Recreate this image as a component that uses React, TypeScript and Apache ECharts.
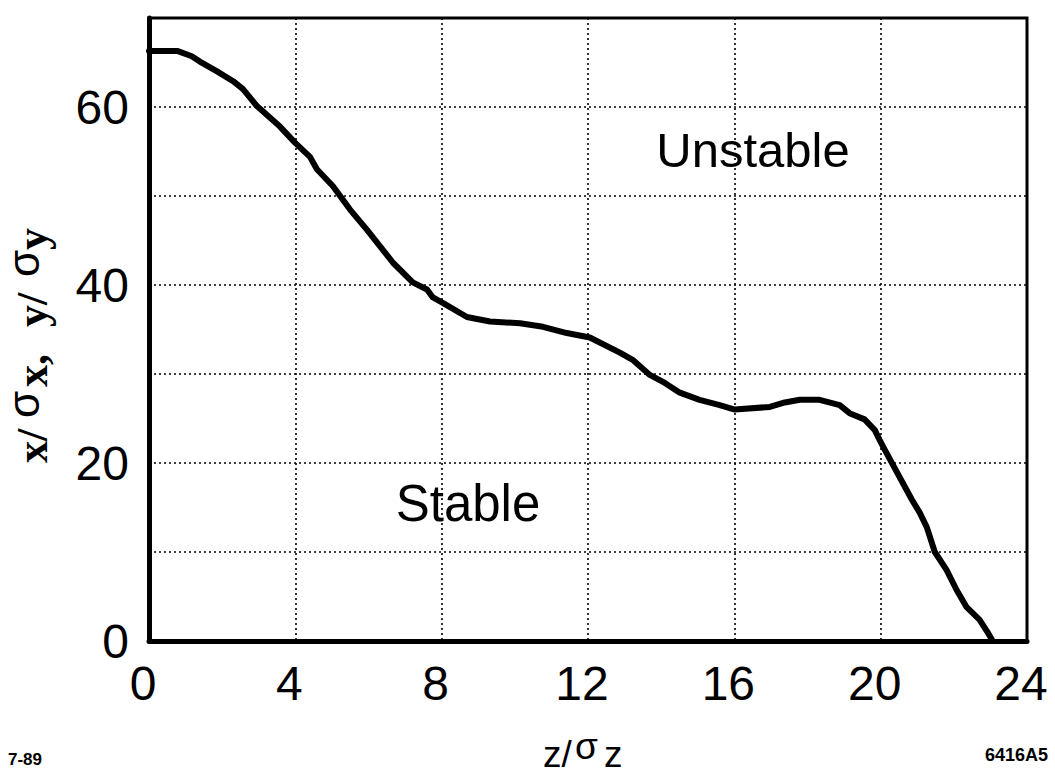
import React, { useEffect, useRef } from "react";
import * as echarts from "echarts";

const zValues = [0, 0.77, 1.17, 1.39, 1.86, 2.30, 2.57, 2.95, 3.58, 3.99, 4.40, 4.59, 5.03, 5.49, 5.96, 6.23, 6.67, 7.21, 7.60, 7.76, 8.03, 8.69, 9.32, 10.14, 10.77, 11.42, 12.05, 12.87, 13.22, 13.69, 14.10, 14.51, 15.05, 15.60, 16.01, 16.97, 17.38, 17.79, 18.33, 18.88, 19.15, 19.56, 19.84, 19.97, 20.11, 20.85, 21.07, 21.26, 21.48, 21.80, 22.08, 22.35, 22.70, 22.92, 23.06];
const limitValues = [66.3, 66.3, 65.7, 65.1, 64.0, 62.9, 62.0, 60.1, 57.8, 56.0, 54.4, 53.0, 51.1, 48.5, 46.2, 44.8, 42.5, 40.3, 39.5, 38.6, 38.0, 36.4, 35.9, 35.7, 35.3, 34.6, 34.1, 32.4, 31.6, 29.9, 29.0, 27.9, 27.1, 26.5, 26.0, 26.3, 26.8, 27.1, 27.1, 26.5, 25.6, 24.9, 23.7, 22.6, 21.5, 15.9, 14.4, 12.8, 10.0, 8.0, 5.7, 3.8, 2.4, 1.0, 0];
const yLabelTicks = [0, 20, 40, 60];
const regionLabels = ["Unstable", "Stable"];

const SANS = "'Liberation Sans', Arial, Helvetica, sans-serif";
const SERIF = "'Liberation Serif', 'Times New Roman', serif";

export default function App() {
  const ref = useRef<HTMLDivElement>(null);
  useEffect(() => {
    if (!ref.current) return;
    const chart = echarts.init(ref.current, null, { renderer: "svg" });
    const data = zValues.map((z, i) => [z, limitValues[i]]);
    const grid = { left: 149, right: 28, top: 18, bottom: 133 };
    const dotted = { color: "#000", width: 1.6, type: [2, 3] as any };
    const t = (x: number, y: number, text: string, font: string) => ({
      type: "text",
      x,
      y,
      style: { text, font, fill: "#000", align: "left", verticalAlign: "middle", lineHeight: 28 },
    });
    chart.setOption({
      animation: false,
      backgroundColor: "#fff",
      grid: { ...grid, show: true, borderColor: "#000", borderWidth: 3, backgroundColor: "transparent" },
      xAxis: {
        type: "value",
        min: 0,
        max: 24,
        interval: 4,
        axisLine: { show: true, onZero: false, lineStyle: { color: "#000", width: 5 } },
        axisTick: { show: false },
        splitLine: { show: true, lineStyle: dotted },
        axisLabel: { color: "#000", fontSize: 48, fontFamily: SANS, margin: 18, padding: [0, 12, 0, 0] },
      },
      yAxis: {
        type: "value",
        min: 0,
        max: 70,
        interval: 10,
        axisLine: { show: true, onZero: false, lineStyle: { color: "#000", width: 5 } },
        axisTick: { show: false },
        splitLine: { show: true, lineStyle: dotted },
        axisLabel: {
          color: "#000",
          fontSize: 48,
          fontFamily: SANS,
          margin: 20,
          formatter: (v: number) => (yLabelTicks.includes(v) ? String(v) : ""),
        },
      },
      series: [
        {
          type: "line",
          data,
          symbol: "none",
          smooth: false,
          lineStyle: { color: "#000", width: 6, cap: "round", join: "round" },
        },
      ],
      graphic: [
        {
          type: "text",
          x: 753,
          y: 150,
          style: { text: regionLabels[0], font: `49px ${SANS}`, fill: "#000", align: "center", verticalAlign: "middle" },
        },
        {
          type: "text",
          x: 468,
          y: 503,
          style: { text: regionLabels[1], font: `51px ${SANS}`, fill: "#000", align: "center", verticalAlign: "middle" },
        },
        // x-axis title z/σz
        t(543, 754, "z/", `37px ${SANS}`),
        t(575, 746, "σ", `37px ${SANS}`),
        t(604, 754, "z", `37px ${SANS}`),
        // y-axis title x/σx, y/σy (rotated)
        {
          type: "group",
          x: 47,
          y: 463,
          rotation: Math.PI / 2,
          children: [
            t(0, -15, "x/", `bold 44px ${SERIF}`),
            t(45, -24, "σ", `44px ${SANS}`),
            t(76, -15, "x,", `bold 44px ${SERIF}`),
            t(136, -15, "y/", `bold 44px ${SERIF}`),
            t(186, -24, "σ", `44px ${SANS}`),
            t(213, -15, "y", `bold 44px ${SERIF}`),
          ],
        },
        { type: "text", x: 8, y: 759, style: { text: "7-89", font: `bold 17px ${SANS}`, fill: "#000", align: "left", verticalAlign: "middle" } },
        { type: "text", x: 985, y: 755, style: { text: "6416A5", font: `bold 18px ${SANS}`, fill: "#000", align: "left", verticalAlign: "middle" } },
      ],
    });
    return () => chart.dispose();
  }, []);
  return <div ref={ref} style={{ position: "fixed", left: 0, top: 0, width: 1055, height: 774 }} />;
}
